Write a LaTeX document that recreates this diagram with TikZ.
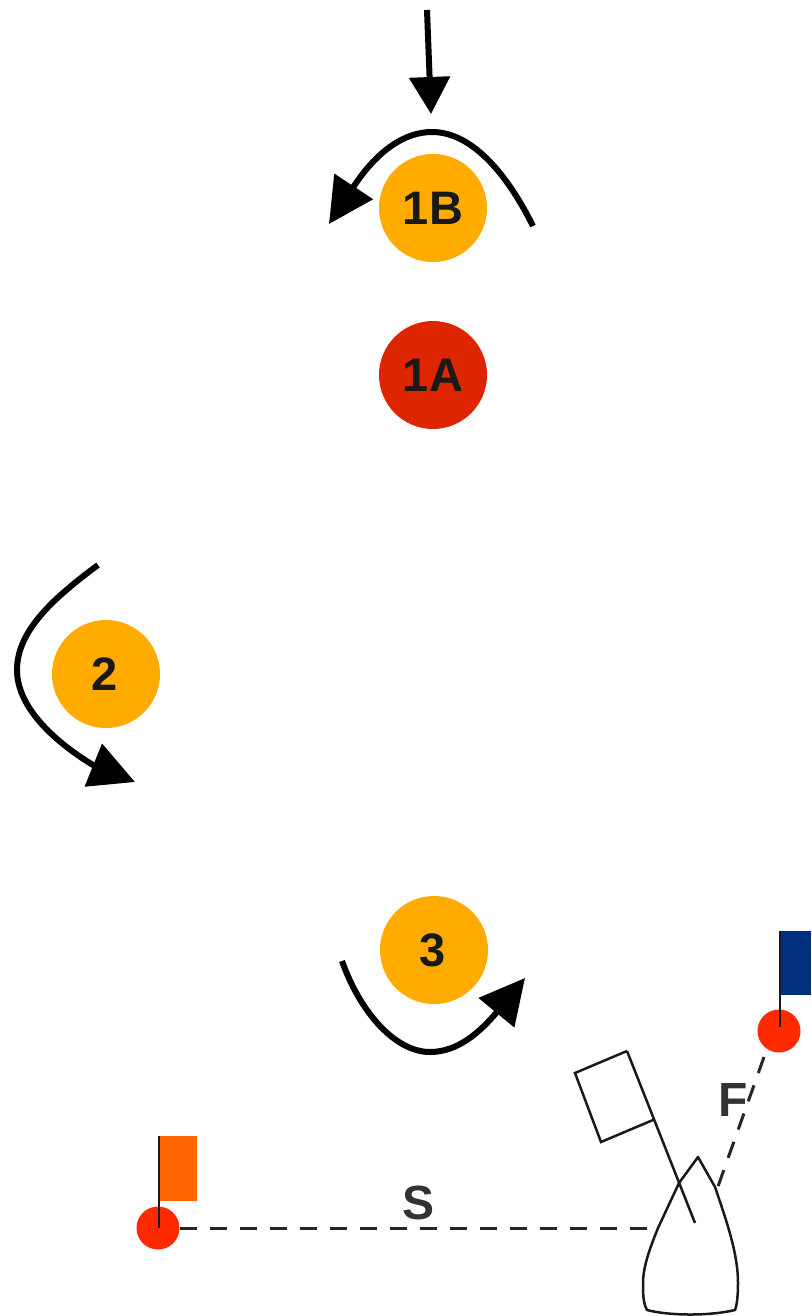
\documentclass[tikz,border=0pt]{standalone}
\usepackage{fontspec}
\setmainfont{Liberation Sans}
\usetikzlibrary{arrows.meta}
\tikzset{
  mark disc/.style={circle,draw=none,minimum size=108pt,inner sep=0pt,font=\fontsize{47}{47}\selectfont\bfseries,text=black!90},
  buoy/.style={circle,fill=buoyred,draw=none,minimum size=43pt,inner sep=0pt},
  course/.style={line width=6pt,line cap=butt,-{Triangle[length=37pt,width=40pt]}},
  course big/.style={line width=6pt,line cap=butt,-{Triangle[length=45pt,width=45pt]}},
  thin line/.style={line width=2.5pt,draw=black!90},
  dist line/.style={line width=3pt,dash pattern=on 17pt off 13pt,draw=black!85},
  dist label/.style={font=\fontsize{48}{48}\selectfont\bfseries,text=black!80,inner sep=0pt}
}
\definecolor{amberc}{HTML}{FFAB00}
\definecolor{redc}{HTML}{DD2500}
\definecolor{buoyred}{HTML}{FF2A00}
\definecolor{flagblue}{HTML}{002F7E}
\definecolor{flagorange}{HTML}{FF6600}
\begin{document}
\begin{tikzpicture}[x=1pt,y=-1pt]
\useasboundingbox (0,0) rectangle (811,1316);
% marks
\node[mark disc,fill=amberc] (m1b) at (433,208) {1B};
\node[mark disc,fill=redc] (m1a) at (433,375) {\raisebox{-4pt}{1A}};
\node[mark disc,fill=amberc] (m2) at (106,674) {\hspace*{-2pt}2};
\node[mark disc,fill=amberc] (m3) at (434,950) {\hspace*{-2pt}3};
% arrows
\coordinate (a0) at (427,10); \coordinate (a1) at (431,114);
\draw[course] (a0) -- (a1);
\coordinate (b0) at (533,226); \coordinate (b1) at (329,224);
\draw[course big] (b0) .. controls (505,170) and (470,132) .. (432,132) .. controls (405,132) and (378,150) .. (354,186) -- (b1);
\coordinate (c0) at (98,565); \coordinate (c1) at (135,782);
\draw[course big] (c0) .. controls (55,597) and (17,630) .. (17,670) .. controls (17,710) and (60,745) .. (93,765) -- (c1);
\coordinate (d0) at (342,961); \coordinate (d1) at (525,978);
\draw[course big] (d0) .. controls (360,1012) and (395,1052) .. (430,1052) .. controls (458,1052) and (480,1032) .. (497,1012) -- (d1);
% pin flags
\node[fill=flagorange,draw=none,minimum width=39pt,minimum height=65pt,inner sep=0pt] (fo) at (177.5,1168.5) {};
\node[buoy] (bo) at (158,1228) {};
\coordinate (fot) at (159,1136); \coordinate (fob) at (159,1228);
\draw[thin line] (fot) -- (fob);
\node[fill=flagblue,draw=none,minimum width=31pt,minimum height=64pt,inner sep=0pt] (fb) at (795.5,963) {};
\node[buoy] (bb) at (779,1031) {};
\coordinate (fbt) at (780,931); \coordinate (fbb) at (780,1027);
\draw[thin line] (fbt) -- (fbb);
% boat
\coordinate (hs) at (658,1228);
\coordinate (hf) at (716,1192);
\coordinate (fs) at (764,1057);
\draw[thin line,line join=round] (679,1183) -- (698,1157) -- (715,1187) .. controls (728,1225) and (738,1255) .. (738,1283) .. controls (738,1295) and (737,1305) .. (735,1310) .. controls (710,1316) and (670,1316) .. (647,1310) .. controls (643,1303) and (643,1293) .. (643,1283) .. controls (643,1265) and (652,1243) .. (658,1228) -- (679,1183);
\coordinate (mt) at (627,1051); \coordinate (mb) at (695,1223);
\draw[thin line] (mt) -- (mb);
\draw[thin line,line join=miter] (627,1051) -- (575,1073) -- (601,1142) -- (653,1120);
% distances
\draw[dist line] (bo) -- (hs);
\draw[dist line] (fs) -- (hf);
\node[dist label] (s) at (419,1203) {S};
\node[dist label] (f) at (733,1100) {F};
\end{tikzpicture}
\end{document}
